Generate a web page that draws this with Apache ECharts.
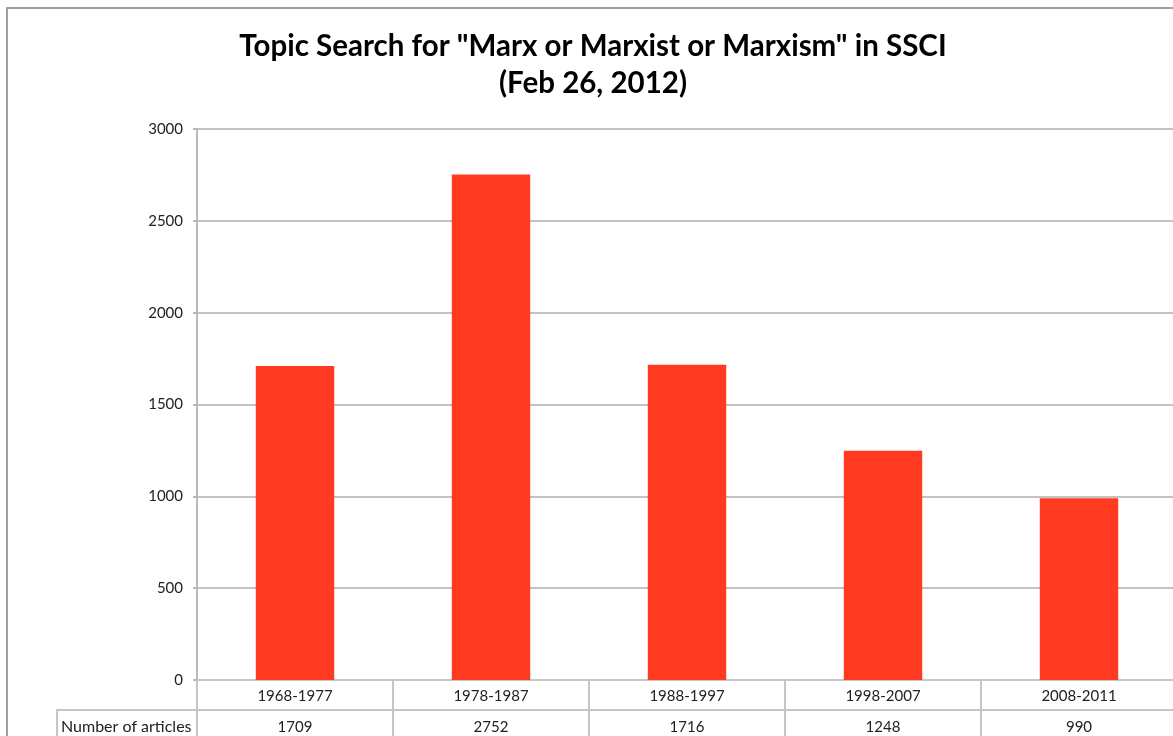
<!DOCTYPE html>
<html>
<head>
<meta charset="utf-8">
<script src="https://cdn.jsdelivr.net/npm/echarts@6/dist/echarts.min.js"></script>
<style>
  html, body { margin: 0; padding: 0; background: #ffffff; overflow: hidden; }
  #chart { width: 1190px; height: 736px; }
</style>
</head>
<body>
<div id="chart"></div>
<script>
	var periods = ['1968-1977', '1978-1987', '1988-1997', '1998-2007', '2008-2011'];
	var articles = [1709, 2752, 1716, 1248, 990];
	var rowName = 'Number of articles';

	var titleText = 'Topic Search for "Marx or Marxist or Marxism" in SSCI\n(Feb 26, 2012)';

	var lineGray = '#c6c6c6';
	var font = 'Lato, "Open Sans", sans-serif';

	var chart = echarts.init(document.getElementById('chart'));

	var option = {
	    backgroundColor: '#ffffff',
	    animation: false,

	    title: {
	        text: titleText,
	        left: 588,
	        top: 23,
	        textAlign: 'center',
	        textStyle: {
	            fontFamily: font,
	            fontSize: 29.5,
	            fontWeight: 'bold',
	            color: '#000000',
	            lineHeight: 37
	        }
	    },

	    grid: {
	        left: 197,
	        top: 129,
	        width: 980,
	        height: 551,
	        containLabel: false
	    },

	    xAxis: [
	        {
	            type: 'category',
	            data: periods,
	            position: 'bottom',
	            axisLine: { show: true, lineStyle: { color: lineGray, width: 2 } },
	            axisTick: {
	                show: true,
	                interval: 0,
	                length: 56,
	                lineStyle: { color: lineGray, width: 2 }
	            },
	            axisLabel: {
	                margin: 9,
	                interval: 0,
	                fontFamily: font,
	                fontSize: 15,
	                color: '#222222'
	            }
	        },
	        {
	            type: 'category',
	            data: articles.map(String),
	            position: 'bottom',
	            offset: 30,
	            axisLine: { show: true, lineStyle: { color: lineGray, width: 2 } },
	            axisTick: { show: false },
	            axisLabel: {
	                margin: 10,
	                interval: 0,
	                fontFamily: font,
	                fontSize: 15,
	                color: '#222222'
	            }
	        }
	    ],

	    yAxis: {
	        type: 'value',
	        min: 0,
	        max: 3000,
	        interval: 500,
	        axisLine: { show: true, lineStyle: { color: '#b8b8b8', width: 2 } },
	        axisTick: { show: true, length: 4, lineStyle: { color: '#b8b8b8', width: 2 } },
	        axisLabel: {
	            margin: 14,
	            fontFamily: font,
	            fontSize: 15,
	            color: '#222222',
	            formatter: function(v){ return String(v); }
	        },
	        splitLine: { show: true, lineStyle: { color: '#c2c2c2', width: 2 } }
	    },

	    series: [
	        {
	            name: rowName,
	            type: 'bar',
	            xAxisIndex: 0,
	            data: articles,
	            barWidth: '40%',
	            itemStyle: { color: '#ff3a20' }
	        }
	    ],

	    graphic: [
	        //outer chart frame
	        {
	            type: 'rect',
	            shape: { x: 7, y: 8, width: 1180, height: 750 },
	            style: { fill: 'none', stroke: '#a0a0a0', lineWidth: 2 },
	            silent: true
	        },
	        //row header cell of the data table
	        {
	            type: 'polyline',
	            shape: { points: [[57, 745], [57, 710], [197, 710]] },
	            style: { fill: 'none', stroke: lineGray, lineWidth: 2 },
	            silent: true
	        },
	        {
	            type: 'text',
	            x: 61,
	            y: 727,
	            style: {
	                text: rowName,
	                fontFamily: font,
	                fontSize: 16,
	                fill: '#222222',
	                verticalAlign: 'middle'
	            },
	            silent: true
	        }
	    ]
	};

	chart.setOption(option);
</script>
</body>
</html>
